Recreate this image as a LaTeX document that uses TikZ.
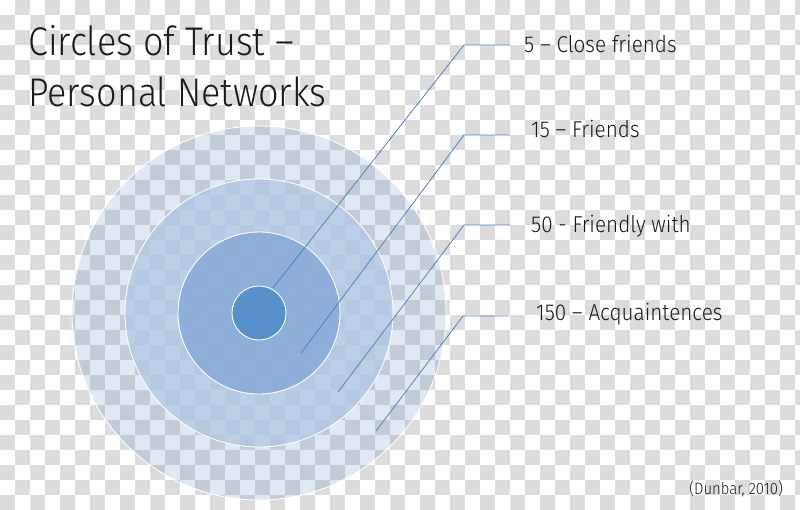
\documentclass[tikz,border=0pt]{standalone}
\usepackage{fontspec}
\setmainfont{Fira Sans Light}[FakeStretch=0.9]
\usetikzlibrary{positioning}
\definecolor{trustblue}{HTML}{4F81BD}
\definecolor{midblue}{HTML}{B2C8E4}
\definecolor{innerblue}{HTML}{8AADD9}
\definecolor{coreblue}{HTML}{5791CC}
\definecolor{checkgray}{HTML}{DCDCDC}
\definecolor{inkgray}{HTML}{1A1A1A}
\tikzset{
  ring/.style={circle,draw=white,line width=0.9pt,fill=trustblue,inner sep=0pt},
  leader/.style={draw=trustblue,line width=0.8pt},
  tierlabel/.style={anchor=base west,inner sep=0pt,text=inkgray,font=\fontsize{23}{28}\selectfont},
  titletext/.style={anchor=base west,inner sep=0pt,text=inkgray,font=\fontsize{40}{51}\selectfont},
  srcnote/.style={anchor=base east,inner sep=0pt,text=inkgray,font=\fontsize{16.5}{19}\selectfont}
}

\begin{document}
\begin{tikzpicture}[x=1pt,y=-1pt]
\useasboundingbox (0,0) rectangle (800,509);
% transparency checkerboard
\begin{scope}
\clip (0,0) rectangle (800,509);
\foreach \i in {0,...,53}{
  \foreach \j in {0,...,33}{
    \pgfmathtruncatemacro{\chk}{mod(\i+\j,2)}
    \ifnum\chk=1 \fill[checkgray] (\i*15,\j*15) rectangle ++(15,15); \fi
  }
}
\end{scope}
% circles
\coordinate (ctr) at (259,313);
\node[ring,fill opacity=0.18,minimum size=374pt] (acq) at (ctr) {};
\node[ring,fill=midblue,fill opacity=0.8,minimum size=268pt] (fwith) at (ctr) {};
\node[ring,fill=innerblue,fill opacity=0.93,minimum size=162pt] (friends) at (ctr) {};
\node[ring,fill=coreblue,minimum size=54pt] (close) at (ctr) {};
% title
\node[titletext] (title1) at (28,55) {Circles of Trust --};
\node[titletext] (title2) at (28,106) {Personal Networks};
% labels and leaders
\node[tierlabel] (lab5) at (524,52) {5 -- Close friends};
\node[tierlabel] (lab15) at (531,137) {15 -- Friends};
\node[tierlabel] (lab50) at (531,232) {50 - Friendly with};
\node[tierlabel] (lab150) at (536,320) {150 -- Acquaintences};
\coordinate (tip5) at (273,288);
\coordinate (tip15) at (301,353);
\coordinate (tip50) at (338,392);
\coordinate (tip150) at (376,431);
\coordinate (knee5) at (464,45);
\coordinate (knee15) at (464,135);
\coordinate (knee50) at (464,225);
\coordinate (knee150) at (463,316);
\foreach \n in {5,15,50,150}{\draw[leader] (tip\n) -- (knee\n) -- ++(46,0);}
\node[srcnote] (src) at (783,494) {(Dunbar, 2010)};
\end{tikzpicture}
\end{document}
